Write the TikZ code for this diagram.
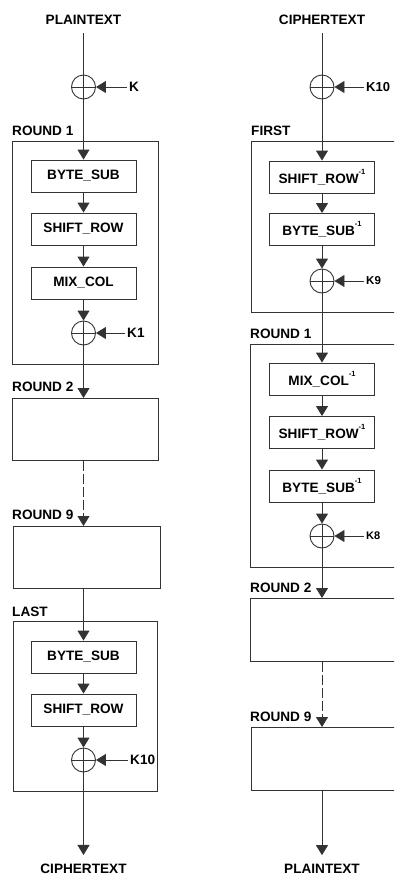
\documentclass[tikz,border=0pt]{standalone}
\usepackage{fontspec}
\setmainfont{Liberation Sans}
\usetikzlibrary{arrows.meta}
\newcommand\invsup{\raisebox{9.3pt}{\fontsize{7.5}{8}\selectfont -1}}
\begin{document}
\begin{tikzpicture}[x=1pt,y=-1pt,
  every node/.style={font=\fontsize{13.6}{15}\selectfont\bfseries, text=black},
  ln/.style={draw=black!80, line width=0.9pt},
  arr/.style={ln, -{Triangle[length=10pt,width=12pt]}},
  opbox/.style={ln, minimum width=105pt, minimum height=32pt, inner sep=0pt},
  frame/.style={ln, anchor=north west, inner sep=0pt},
  xorc/.style={circle, ln, minimum size=24pt, inner sep=0pt,
    path picture={\draw[ln] (path picture bounding box.north) -- (path picture bounding box.south)
      (path picture bounding box.west) -- (path picture bounding box.east);}},
  lbl/.style={anchor=base west, inner sep=0pt},
  key/.style={anchor=west, inner xsep=2pt, inner ysep=0pt},
  io/.style={inner xsep=0pt, inner ysep=8pt},
  dsh/.style={dash pattern=on 10pt off 3pt},
]
\useasboundingbox (0,0) rectangle (394,876);
\clip (0,0) rectangle (394,876);

% ---------------- left column (encryption) ----------------
\node[io] (pt1) at (83.5,20) {PLAINTEXT};
\node[xorc] (x1) at (83.5,87) {};
\node[key] (kA) at (127,87) {K};

\node[frame, minimum width=146pt, minimum height=223pt] (r1) at (12,141) {};
\node[lbl] at (12,135) {ROUND 1};
\node[opbox] (bs1) at (83.5,176) {BYTE\_SUB};
\node[opbox] (sr1) at (83.5,229) {SHIFT\_ROW};
\node[opbox] (mc1) at (83.5,283) {MIX\_COL};
\node[xorc] (x2) at (83.5,333) {};
\node[key] (kB) at (125,333) {K1};

\node[frame, minimum width=146pt, minimum height=62pt] (r2) at (12,398) {};
\node[lbl] at (12,391) {ROUND 2};
\node[frame, minimum width=147pt, minimum height=62pt] (r9) at (13,526) {};
\node[lbl] at (12,519) {ROUND 9};

\node[frame, minimum width=144pt, minimum height=170pt] (last) at (13,621) {};
\node[lbl] at (12,616) {LAST};
\node[opbox] (bs2) at (83.5,657) {BYTE\_SUB};
\node[opbox] (sr2) at (83.5,710) {SHIFT\_ROW};
\node[xorc] (x3) at (83.5,760) {};
\node[key] (kC) at (128,760) {K10};
\node[io, inner ysep=9pt] (ct2) at (83.5,869) {CIPHERTEXT};

\draw[ln] (pt1) -- (x1);
\draw[arr] (kA) -- (x1);
\draw[arr] (x1) -- (bs1);
\draw[arr] (bs1) -- (sr1);
\draw[arr] (sr1) -- (mc1);
\draw[arr] (mc1) -- (x2);
\draw[arr] (kB) -- (x2);
\draw[arr] (x2) -- (x2 |- r2.north);
\draw[arr, dsh] (x2 |- r2.south) -- (x2 |- r9.north);
\draw[arr] (x2 |- r9.south) -- (bs2);
\draw[arr] (bs2) -- (sr2);
\draw[arr] (sr2) -- (x3);
\draw[arr] (kC) -- (x3);
\draw[arr] (x3) -- (ct2);

% ---------------- right column (decryption) ----------------
\node[io] (ct1) at (322,20) {CIPHERTEXT};
\node[xorc] (x4) at (322,87) {};
\node[key, font=\fontsize{13}{15}\selectfont\bfseries] (kD) at (364,87) {K10};

\node[frame, minimum width=150pt, minimum height=171pt] (R0) at (251,141) {};
\node[lbl] at (251,135) {FIRST};
\node[opbox] (sri1) at (322,177) {SHIFT\_ROW\invsup};
\node[opbox] (bsi1) at (322,229.5) {BYTE\_SUB\invsup};
\node[xorc] (x5) at (322,281) {};
\node[key, font=\fontsize{11.5}{13}\selectfont\bfseries] (kE) at (364,281) {K9};

\node[frame, minimum width=151pt, minimum height=223pt] (R1) at (250,344) {};
\node[lbl] at (250,338) {ROUND 1};
\node[opbox] (mci) at (322,379) {MIX\_COL\invsup};
\node[opbox] (sri2) at (322,432.5) {SHIFT\_ROW\invsup};
\node[opbox] (bsi2) at (322,486) {BYTE\_SUB\invsup};
\node[xorc] (x6) at (322,536) {};
\node[key, font=\fontsize{11}{13}\selectfont\bfseries] (kF) at (364,536) {K8};

\node[frame, minimum width=151pt, minimum height=63pt] (R2) at (250,598) {};
\node[lbl] at (250,592) {ROUND 2};
\node[frame, minimum width=150pt, minimum height=63pt] (R9) at (251,727) {};
\node[lbl] at (250,721) {ROUND 9};
\node[io, inner ysep=9pt] (pt2) at (322,869) {PLAINTEXT};

\draw[ln] (ct1) -- (x4);
\draw[arr] (kD) -- (x4);
\draw[arr] (x4) -- (sri1);
\draw[arr] (sri1) -- (bsi1);
\draw[arr] (bsi1) -- (x5);
\draw[arr] (kE) -- (x5);
\draw[arr] (x5) -- (mci);
\draw[arr] (mci) -- (sri2);
\draw[arr] (sri2) -- (bsi2);
\draw[arr] (bsi2) -- (x6);
\draw[arr] (kF) -- (x6);
\draw[arr] (x6) -- (x6 |- R2.north);
\draw[arr, dsh] (x6 |- R2.south) -- (x6 |- R9.north);
\draw[arr] (x6 |- R9.south) -- (pt2);
\end{tikzpicture}
\end{document}
